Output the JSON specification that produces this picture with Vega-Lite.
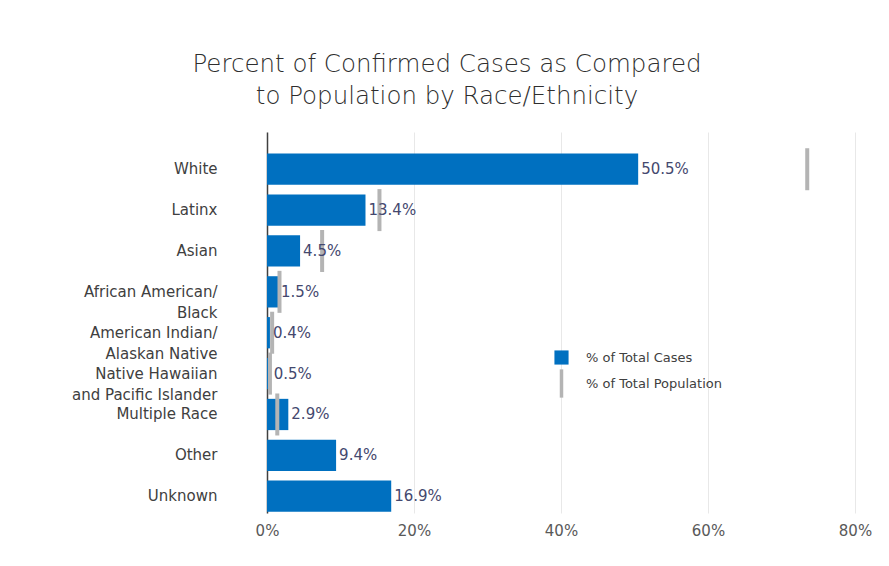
{
  "$schema": "https://vega.github.io/schema/vega-lite/v6.json",
  "autosize": {"type": "none"},
  "width": 588,
  "height": 381,
  "padding": {"left": 267, "top": 132, "right": 34, "bottom": 53},
  "background": "white",
  "config": {
    "font": "DejaVu Sans",
    "view": {"stroke": null}
  },
  "title": {
    "text": ["Percent of Confirmed Cases as Compared", "to Population by Race/Ethnicity"],
    "anchor": "middle",
    "frame": "group",
    "dx": -114,
    "offset": 23,
    "fontSize": 24.5,
    "fontWeight": 300,
    "lineHeight": 32,
    "color": "#2e2e2e",
    "font": "DejaVu Sans"
  },
  "data": {
    "values": [
      {"race": "White", "cases": 0.505, "pop": 0.735},
      {"race": "Latinx", "cases": 0.134, "pop": 0.153},
      {"race": "Asian", "cases": 0.045, "pop": 0.075},
      {"race": "African American/|Black", "cases": 0.015, "pop": 0.017},
      {"race": "American Indian/|Alaskan Native", "cases": 0.004, "pop": 0.007},
      {"race": "Native Hawaiian|and Pacific Islander", "cases": 0.005, "pop": 0.004},
      {"race": "Multiple Race", "cases": 0.029, "pop": 0.014},
      {"race": "Other", "cases": 0.094, "pop": null},
      {"race": "Unknown", "cases": 0.169, "pop": null}
    ]
  },
  "encoding": {
    "y": {
      "field": "race",
      "type": "nominal",
      "sort": null,
      "title": null,
      "scale": {"paddingInner": 0.235, "paddingOuter": 0.278, "align": 0.95},
      "axis": {
        "labelExpr": "split(datum.label, '|')",
        "labelFontSize": 15,
        "labelColor": "#404040",
        "labelPadding": 50,
        "labelLineHeight": 21,
        "ticks": false,
        "domainColor": "#404040",
        "domainWidth": 1.5,
        "grid": false
      }
    }
  },
  "layer": [
    {
      "mark": {"type": "bar", "color": "#0070c0"},
      "encoding": {
        "x": {
          "field": "cases",
          "type": "quantitative",
          "title": null,
          "scale": {"domain": [0, 0.8], "nice": false},
          "axis": {
            "format": "%",
            "values": [0, 0.2, 0.4, 0.6, 0.8],
            "labelFontSize": 15,
            "labelColor": "#595959",
            "labelPadding": 10,
            "labelFlush": false,
            "ticks": false,
            "domain": false,
            "grid": true,
            "gridColor": "#e8e8e8",
            "gridWidth": 1
          }
        },
        "color": {
          "datum": "% of Total Cases",
          "type": "nominal",
          "scale": {"domain": ["% of Total Cases", "% of Total Population"], "range": ["#0070c0", "#b4b4b4"]},
          "legend": {
            "title": null,
            "orient": "none",
            "legendX": 288,
            "legendY": 219,
            "labelFontSize": 13,
            "labelColor": "#404040",
            "labelOffset": 18,
            "rowPadding": -3,
            "symbolSize": 200,
            "encode": {
              "symbols": {
                "update": {
                  "shape": {"signal": "datum.value === '% of Total Cases' ? 'square' : 'M0,-2L0,2'"},
                  "size": {"value": 200},
                  "fill": {"signal": "datum.value === '% of Total Cases' ? '#0070c0' : 'transparent'"},
                  "stroke": {"signal": "datum.value === '% of Total Cases' ? '#0070c0' : '#b4b4b4'"},
                  "strokeWidth": {"signal": "datum.value === '% of Total Cases' ? 0 : 3.5"},
                  "opacity": {"value": 1},
                  "fillOpacity": {"value": 1}
                }
              }
            }
          }
        }
      }
    },
    {
      "mark": {"type": "tick", "orient": "vertical", "size": 42, "thickness": 4, "opacity": 1},
      "encoding": {
        "x": {"field": "pop", "type": "quantitative"},
        "color": {"datum": "% of Total Population", "type": "nominal"}
      }
    },
    {
      "mark": {"type": "text", "align": "left", "baseline": "middle", "dx": 3, "fontSize": 15, "color": "#44486e"},
      "encoding": {
        "x": {"field": "cases", "type": "quantitative"},
        "text": {"field": "cases", "type": "quantitative", "format": ".1%"}
      }
    }
  ]
}
